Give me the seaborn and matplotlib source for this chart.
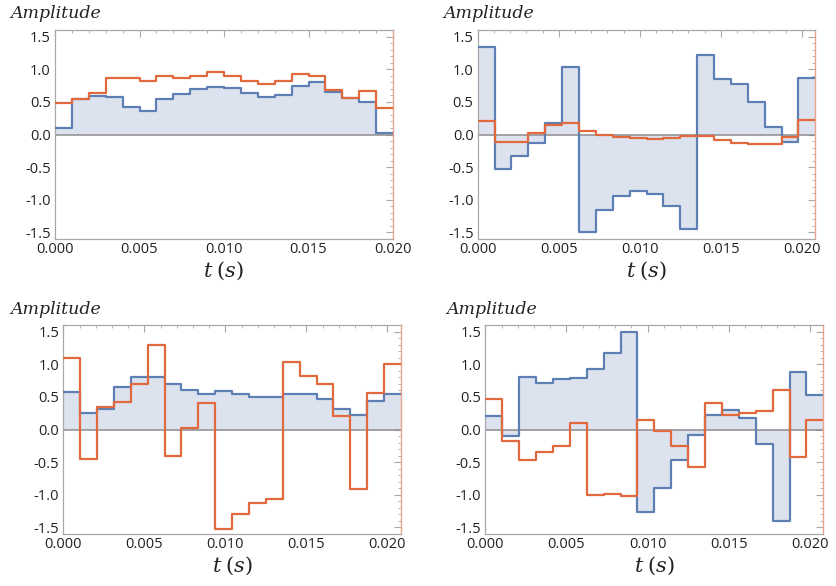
import numpy as np
import pandas as pd
import matplotlib
matplotlib.use("Agg")
import matplotlib.pyplot as plt
from matplotlib.ticker import MultipleLocator, FormatStrFormatter
import seaborn as sns

# ---- data (step values, 20 steps per panel) ----
periods = [0.020, 1/48, 1/48, 1/48]

blue1 = [0.10, 0.55, 0.59, 0.57, 0.42, 0.36, 0.55, 0.62, 0.70, 0.73,
         0.71, 0.64, 0.58, 0.60, 0.75, 0.80, 0.65, 0.56, 0.50, 0.02]
orange1 = [0.48, 0.55, 0.64, 0.87, 0.86, 0.82, 0.89, 0.87, 0.90, 0.95,
           0.90, 0.82, 0.77, 0.82, 0.92, 0.90, 0.68, 0.56, 0.67, 0.41]

blue2 = [1.34, -0.53, -0.33, -0.13, 0.18, 1.03, -1.49, -1.15, -0.94, -0.86,
         -0.91, -1.09, -1.44, 1.22, 0.85, 0.78, 0.50, 0.11, -0.11, 0.87]
orange2 = [0.20, -0.12, -0.12, 0.03, 0.15, 0.17, 0.06, 0.00, -0.04, -0.05,
           -0.07, -0.05, -0.02, -0.02, -0.09, -0.13, -0.14, -0.14, -0.04, 0.22]

blue3 = [0.58, 0.26, 0.31, 0.65, 0.80, 0.80, 0.70, 0.60, 0.55, 0.59,
         0.54, 0.50, 0.50, 0.54, 0.54, 0.46, 0.31, 0.22, 0.44, 0.55]
orange3 = [1.09, -0.45, 0.34, 0.42, 0.69, 1.29, -0.40, 0.03, 0.41, -1.53,
           -1.29, -1.12, -1.06, 1.03, 0.82, 0.69, 0.21, -0.91, 0.56, 1.00]

blue4 = [0.20, -0.10, 0.81, 0.71, 0.77, 0.79, 0.92, 1.17, 1.50, -1.26,
         -0.90, -0.47, -0.08, 0.22, 0.30, 0.18, -0.22, -1.40, 0.88, 0.53]
orange4 = [0.46, -0.17, -0.47, -0.35, -0.26, 0.10, -1.00, -0.98, -1.02, 0.15,
           -0.02, -0.26, -0.58, 0.41, 0.22, 0.25, 0.28, 0.61, -0.42, 0.14]

blues = [blue1, blue2, blue3, blue4]
oranges = [orange1, orange2, orange3, orange4]

ylabel_text = "Amplitude"
xlabel_text = "$t$ $(s)$"

# ---- style ----
sns.set_theme(style="white")
plt.rcParams["font.family"] = ["Open Sans", "DejaVu Sans"]
plt.rcParams["mathtext.fontset"] = "dejavuserif"

BLUE = "#5D7FB3"
FILL = "#DCE3EF"
ORANGE = "#E2683E"
FRAME = "#A8A8A8"
ZERO = "#8C8C8C"

fig = plt.figure(figsize=(8.36, 5.86), dpi=100)

W, H = 836, 586
# (left px, right px, top px, bottom px)
boxes = [(55, 393, 30, 239), (477.7, 815.3, 30, 239),
         (63.3, 401, 325, 534), (485.3, 823.3, 325, 534)]
title_pos = [(10, 13), (443, 13), (10, 309), (446, 309)]

for i in range(4):
    l, r, t, b = boxes[i]
    ax = fig.add_axes([l / W, 1 - b / H, (r - l) / W, (b - t) / H])
    T = periods[i]
    n = len(blues[i])
    edges = np.linspace(0, T, n + 1)
    bv = np.append(blues[i], blues[i][-1])
    ov = np.append(oranges[i], oranges[i][-1])
    df = pd.DataFrame({"t": edges, "blue": bv, "orange": ov})

    ax.fill_between(df["t"], 0, df["blue"], step="post", color=FILL, lw=0, zorder=1)
    ax.axhline(0, color=ZERO, lw=1.1, zorder=2)
    sns.lineplot(data=df, x="t", y="blue", ax=ax, color=BLUE, lw=1.6,
                 drawstyle="steps-post", zorder=3)
    # close the last step down to zero line on the right edge (vertical drop)
    sns.lineplot(data=df, x="t", y="orange", ax=ax, color=ORANGE, lw=1.6,
                 drawstyle="steps-post", zorder=4)

    ax.set_xlim(0, T)
    ax.set_ylim(-1.6, 1.6)
    ax.xaxis.set_major_locator(MultipleLocator(0.005))
    ax.xaxis.set_minor_locator(MultipleLocator(0.001))
    ax.yaxis.set_major_locator(MultipleLocator(0.5))
    ax.yaxis.set_minor_locator(MultipleLocator(0.1))
    ax.xaxis.set_major_formatter(FormatStrFormatter("%.3f"))
    ax.yaxis.set_major_formatter(FormatStrFormatter("%.1f"))
    ax.tick_params(which="both", direction="in", top=True, right=True,
                   colors=FRAME, labelcolor="#222222", labelsize=10.5)
    ax.tick_params(which="major", length=5, width=0.8)
    ax.tick_params(which="minor", length=2.5, width=0.6)
    ax.tick_params(axis="x", pad=2)
    ax.tick_params(axis="y", pad=3)
    for side in ["left", "bottom", "top"]:
        ax.spines[side].set_color(FRAME)
        ax.spines[side].set_linewidth(0.9)
    ax.spines["right"].set_color("#EBA48C")
    ax.spines["right"].set_linewidth(1.0)
    ax.tick_params(axis="y", which="both", right=True, color=FRAME)
    ax.set_xlabel(xlabel_text, fontsize=15, labelpad=2, color="#222222")
    ax.set_ylabel("")
    ax.set_facecolor("white")

    tx, ty = title_pos[i]
    fig.text(tx / W, 1 - ty / H, ylabel_text, family="DejaVu Serif",
             style="italic", fontsize=12.5, color="#222222", va="center", ha="left")

fig.savefig("out.png", dpi=100, facecolor="white")
